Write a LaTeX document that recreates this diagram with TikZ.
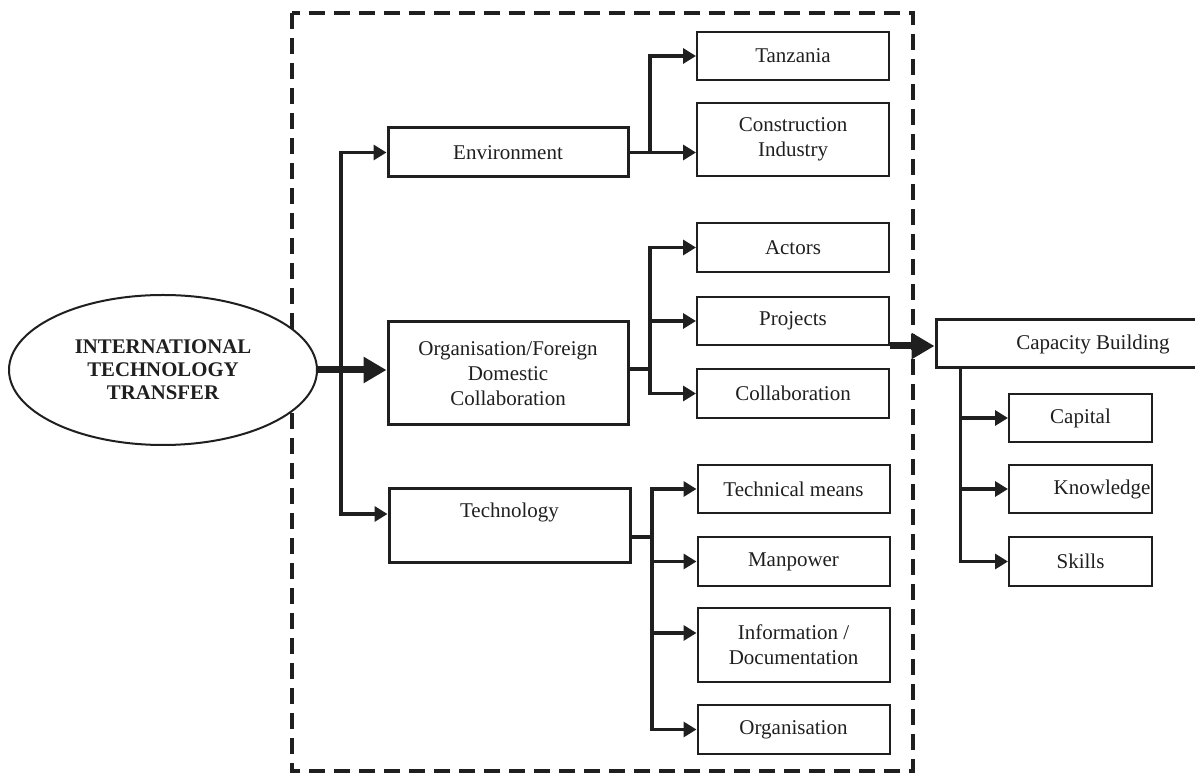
\documentclass[tikz,border=0pt]{standalone}
\usepackage{fontspec}
\setmainfont{Liberation Serif}
\usetikzlibrary{arrows.meta,shapes.geometric,calc}
\definecolor{ink}{gray}{0.12}

\begin{document}
\begin{tikzpicture}[x=0.5pt,y=-0.5pt,
  every node/.style={font=\fontsize{10.5}{12.5}\selectfont, text=ink},
  mainbox/.style={draw=ink, line width=1.5pt, inner sep=0pt, align=center},
  subbox/.style={draw=ink, line width=1pt, inner sep=0pt, align=center,
                 minimum width=96pt},
  conn/.style={line width=1.7pt, draw=ink},
  arr/.style={conn, -{Triangle[length=6.5pt,width=7.5pt]}},
  bigarr/.style={line width=3.5pt, draw=ink, -{Triangle[length=11.5pt,width=12.5pt]}},
  frame/.style={draw=ink, line width=2pt, dash pattern=on 8pt off 4.5pt}
]
\useasboundingbox (0,0) rectangle (1195,774);
\clip (0,0) rectangle (1195,774);

% dashed boundary around the transfer channels
\draw[frame] (292,13) rectangle (913,771);

% source
\node[ellipse, draw=ink, fill=white, line width=1pt, minimum width=154pt, minimum height=75pt,
      inner sep=0pt, align=center,
      font=\bfseries\fontsize{10.4}{11.5}\selectfont] (itt) at (163,370)
      {INTERNATIONAL\\TECHNOLOGY\\TRANSFER};

% first level
\node[mainbox, minimum width=120pt, minimum height=24.5pt] (env) at (508,152.5) {Environment};
\node[mainbox, minimum width=120pt, minimum height=51.5pt] (org) at (508,373.5)
      {Organisation/Foreign\\Domestic\\Collaboration};
\node[mainbox, minimum width=120.5pt, minimum height=37pt,
      label={[anchor=center, yshift=-12.5pt, font=\fontsize{10.5}{12.5}\selectfont, text=ink]north:Technology}]
      (tech) at (509.5,526) {};

% environment branch
\node[subbox, minimum height=24pt] (tan) at (793,56) {Tanzania};
\node[subbox, minimum height=36.5pt] (cons) at (793,139.5) {Construction\\Industry};

% organisation branch
\node[subbox, minimum height=24.5pt] (act) at (793,247.5) {Actors};
\node[subbox, minimum height=24pt] (proj) at (793,321) {Projects};
\node[subbox, minimum height=24.5pt] (coll) at (793,393.5) {Collaboration};

% technology branch
\node[subbox, minimum height=24pt] (tm) at (793.5,489) {Technical means};
\node[subbox, minimum height=24.5pt] (man) at (793.5,561.5) {Manpower};
\node[subbox, minimum height=37pt] (info) at (793.5,645) {Information /\\Documentation};
\node[subbox, minimum height=24.5pt] (orgn) at (793.5,729.5) {Organisation};

% outcome
\node[mainbox, minimum width=157pt, minimum height=24pt] (cap) at (1093,344) {Capacity Building};
\node[subbox, minimum width=71.5pt, minimum height=24pt] (capital) at (1080.5,418) {Capital};
\node[subbox, minimum width=71.5pt, minimum height=24pt, text width=70pt, align=right] (know) at (1080.5,489) {Knowledge};
\node[subbox, minimum width=71.5pt, minimum height=24.5pt] (skills) at (1080.5,561.5) {Skills};

% main flow
\draw[bigarr] (itt.east) -- (itt.east -| org.west);
\draw[bigarr] (proj.south east) -- (proj.south east -| cap.west);

% trunk to the three channels
\coordinate (trunk) at (341,370);
\draw[arr] (trunk) |- (env.west);
\draw[arr] (trunk) |- ([yshift=6pt]tech.west);

% environment fan-out
\coordinate (envj) at (650,152.5);
\draw[conn] (env.east) -- (envj);
\draw[arr] (envj) |- (tan.west);
\draw[arr] (envj) -- (envj -| cons.west);

% organisation fan-out
\coordinate (orgj) at (650,369);
\draw[conn] (orgj -| org.east) -- (orgj);
\draw[arr] (orgj) |- (act.west);
\draw[arr] (orgj |- proj.west) -- (proj.west);
\draw[arr] (orgj) |- (coll.west);

% technology fan-out
\coordinate (techj) at (652,537);
\draw[conn] (techj -| tech.east) -- (techj);
\draw[arr] (techj) |- (tm.west);
\draw[arr] (techj |- man.west) -- (man.west);
\coordinate (infoin) at ([yshift=6pt]info.west);
\draw[arr] (techj |- infoin) -- (infoin);
\draw[arr] (techj) |- (orgn.west);

% capacity building fan-out
\coordinate (capj) at ([xshift=13pt]cap.south west);
\draw[arr] (capj) |- (capital.west);
\draw[arr] (capj |- know.west) -- (know.west);
\draw[arr] (capj) |- (skills.west);
\end{tikzpicture}
\end{document}
